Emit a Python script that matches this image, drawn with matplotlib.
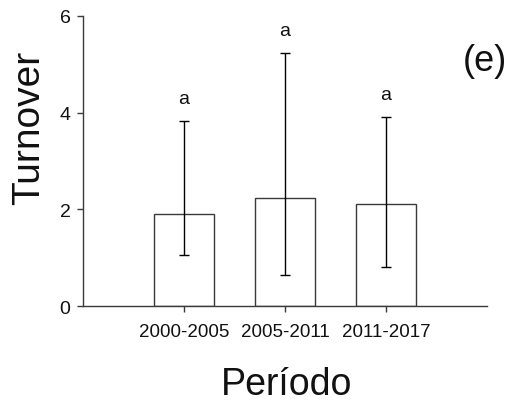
import matplotlib
matplotlib.use("Agg")
import matplotlib.pyplot as plt

plt.rcParams['font.family'] = ['Liberation Sans', 'DejaVu Sans']

categories = ["2000-2005", "2005-2011", "2011-2017"]
means = [1.91, 2.23, 2.12]
err_low = [1.05, 0.64, 0.81]
err_high = [3.83, 5.23, 3.91]
letters = ["a", "a", "a"]
yticks = [0, 2, 4, 6]

fig = plt.figure(figsize=(5.18, 4.06), dpi=100)
ax = fig.add_axes([0.160, 0.243, 0.780, 0.716])

x = [1, 2, 3]
lc = "#3a3a3a"
ax.bar(x, means, width=0.6, color="white", edgecolor=lc, linewidth=1.0, zorder=2)
yerr = [[m - lo for m, lo in zip(means, err_low)], [hi - m for m, hi in zip(means, err_high)]]
ax.errorbar(x, means, yerr=yerr, fmt="none", ecolor="black", elinewidth=1.0, capsize=3.5, capthick=1.0, zorder=3)
for xi, hi, lab in zip(x, err_high, letters):
    ax.text(xi, hi + 0.28, lab, ha="center", va="bottom", fontsize=14, color="#111111")

ax.text(4.2, 5.08, "(e)", ha="right", va="center", fontsize=26, color="#111111", clip_on=False)

ax.set_xlim(0, 4)
ax.set_ylim(0, 6)
ax.set_xticks(x)
ax.set_xticklabels(categories, fontsize=13.5)
ax.set_yticks(yticks)
ax.set_yticklabels([str(t) for t in yticks], fontsize=14)
for s in ["top", "right"]:
    ax.spines[s].set_visible(False)
for s in ["left", "bottom"]:
    ax.spines[s].set_color(lc)
    ax.spines[s].set_linewidth(1.0)
ax.tick_params(axis="both", direction="out", length=4, width=1.0, color=lc, colors="#111111")
ax.tick_params(axis="x", pad=8)
ax.tick_params(axis="y", pad=5)

fig.text(29 / 518, 1 - 128 / 406, "Turnover", rotation=90, ha="center", va="center",
         fontsize=28, color="#111111")
fig.text(287 / 518, 1 - 385 / 406, "Período", ha="center", va="center",
         fontsize=27, color="#111111")

fig.savefig("out.png", dpi=100, facecolor="white")
